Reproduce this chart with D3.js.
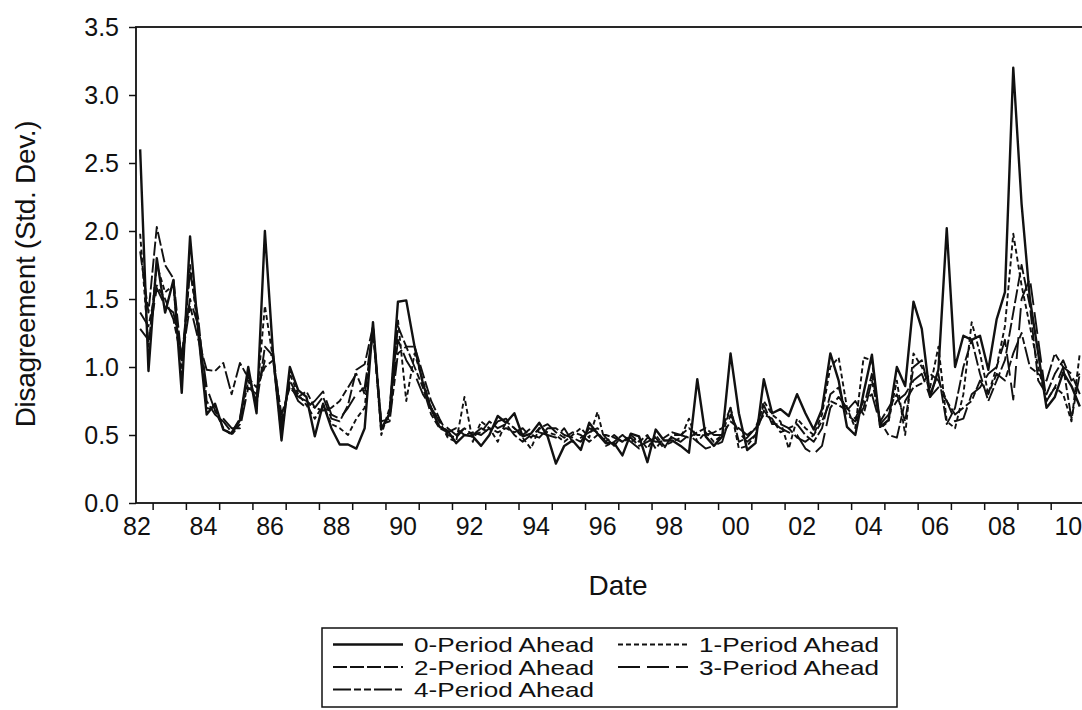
<!DOCTYPE html>
<html><head><meta charset="utf-8">
<script src="https://cdn.jsdelivr.net/npm/d3@7"></script>
<style>
body{margin:0;background:#fff}
svg text{font-family:"Liberation Sans",Arial,sans-serif;fill:#111}
</style>
</head><body>
<svg id="c" width="1082" height="710"></svg>
<script>
// quarterly observations, 1982Q1 .. 2010Q2
const startYear = 1982;
const quarters = d3.range(114).map(i => `${startYear + Math.floor(i / 4)}Q${i % 4 + 1}`);

const s0 = [2.60,0.97,1.80,1.40, 1.64,0.81,1.96,1.25, 0.65,0.73,0.54,0.51, 0.61,1.00,0.66,2.00,
  1.08,0.46,1.00,0.83, 0.78,0.49,0.73,0.55, 0.43,0.43,0.40,0.55, 1.33,0.54,0.66,1.48,
  1.49,1.15,0.88,0.69, 0.56,0.53,0.44,0.50, 0.49,0.42,0.50,0.64, 0.59,0.66,0.49,0.51,
  0.59,0.49,0.29,0.42, 0.46,0.39,0.59,0.51, 0.44,0.44,0.35,0.51, 0.49,0.30,0.54,0.46,
  0.46,0.42,0.37,0.91, 0.49,0.42,0.49,1.10, 0.66,0.39,0.44,0.91, 0.66,0.69,0.64,0.80,
  0.66,0.54,0.69,1.10, 0.90,0.56,0.50,0.81, 1.09,0.56,0.61,1.00, 0.86,1.48,1.28,0.78,
  0.98,2.02,1.00,1.23, 1.20,1.23,0.98,1.35, 1.55,3.20,2.20,1.50, 1.10,0.70,0.78,0.96, 0.86,0.71];
const s1 = [1.98,1.15,1.75,1.55, 1.60,0.95,1.75,1.25, 0.70,0.68,0.55,0.50, 0.58,0.90,0.75,1.45,
  1.05,0.50,0.95,0.80, 0.72,0.62,0.72,0.58, 0.55,0.50,0.62,0.70, 1.30,0.50,0.70,1.35,
  0.75,1.10,0.90,0.70, 0.60,0.48,0.45,0.78, 0.45,0.60,0.55,0.45, 0.60,0.55,0.48,0.40,
  0.55,0.52,0.50,0.45, 0.50,0.55,0.48,0.67, 0.42,0.45,0.50,0.45, 0.48,0.40,0.50,0.42,
  0.45,0.48,0.62,0.45, 0.52,0.45,0.50,0.70, 0.40,0.42,0.50,0.75, 0.65,0.60,0.40,0.62,
  0.55,0.50,0.65,1.00, 1.07,0.70,0.55,1.07, 1.05,0.55,0.60,0.90, 0.50,1.10,1.00,0.85,
  1.15,0.60,0.55,0.80, 1.33,1.10,0.80,1.00, 1.30,1.98,1.60,1.30, 1.00,0.75,0.85,0.80, 0.60,1.10];
const s2 = [1.85,1.40,2.03,1.75, 1.65,1.05,1.70,1.35, 0.75,0.65,0.60,0.52, 0.62,0.95,0.72,1.15,
  1.08,0.55,0.90,0.78, 0.75,0.70,0.78,0.62, 0.60,0.72,0.98,1.02, 1.30,0.55,0.65,1.30,
  1.15,1.15,0.95,0.75, 0.62,0.50,0.48,0.55, 0.50,0.52,0.60,0.55, 0.58,0.50,0.45,0.50,
  0.48,0.55,0.55,0.50, 0.48,0.45,0.55,0.52, 0.45,0.50,0.45,0.48, 0.42,0.45,0.48,0.40,
  0.50,0.50,0.55,0.50, 0.50,0.52,0.55,0.70, 0.45,0.48,0.55,0.72, 0.58,0.58,0.55,0.58,
  0.50,0.45,0.55,0.80, 0.85,0.65,0.60,0.70, 0.95,0.60,0.70,0.80, 0.60,1.00,1.05,0.80,
  0.95,0.58,0.70,1.00, 1.20,0.95,0.75,0.90, 1.05,1.40,1.75,1.45, 0.90,0.80,0.95,1.05, 0.90,0.95];
const s3 = [1.28,1.20,1.58,1.45, 1.40,1.10,1.50,1.30, 0.85,0.68,0.62,0.55, 0.55,0.85,0.80,1.05,
  1.10,0.60,0.88,0.75, 0.70,0.75,0.82,0.65, 0.62,0.70,0.80,0.85, 1.28,0.60,0.62,1.20,
  1.05,0.95,0.80,0.70, 0.60,0.55,0.50,0.55, 0.50,0.55,0.52,0.60, 0.62,0.55,0.50,0.55,
  0.52,0.50,0.48,0.55, 0.45,0.48,0.52,0.55, 0.48,0.42,0.50,0.45, 0.40,0.48,0.45,0.45,
  0.48,0.45,0.50,0.45, 0.40,0.42,0.45,0.65, 0.52,0.45,0.50,0.68, 0.60,0.55,0.52,0.50,
  0.40,0.36,0.42,0.70, 0.78,0.70,0.62,0.75, 0.80,0.58,0.65,0.75, 0.80,0.90,0.95,0.78,
  0.85,0.75,0.60,0.62, 0.80,0.85,0.95,1.00, 1.20,0.76,1.50,1.65, 1.20,0.75,0.85,1.00, 0.95,0.80];
const s4 = [1.40,1.30,1.60,1.50, 1.35,1.05,1.45,1.20, 0.98,0.97,1.03,0.80, 1.03,0.92,0.85,1.00,
  1.05,0.65,0.85,0.78, 0.82,0.70,0.68,0.70, 0.75,0.85,0.95,0.80, 1.25,0.58,0.60,1.10,
  1.15,1.00,0.85,0.65, 0.55,0.52,0.55,0.50, 0.52,0.50,0.55,0.52, 0.55,0.52,0.55,0.48,
  0.55,0.58,0.52,0.48, 0.52,0.50,0.45,0.50, 0.50,0.48,0.45,0.50, 0.45,0.50,0.40,0.48,
  0.52,0.50,0.48,0.52, 0.55,0.50,0.50,0.60, 0.55,0.50,0.55,0.65, 0.62,0.52,0.55,0.48,
  0.45,0.50,0.60,0.75, 0.72,0.68,0.75,0.65, 0.90,0.60,0.50,0.48, 0.75,0.85,0.88,0.95,
  0.90,0.75,0.65,0.70, 0.75,0.90,0.80,0.95, 0.90,1.10,1.25,1.00, 0.95,0.90,1.10,1.00, 0.62,0.95];

const seriesNames = ["0-Period Ahead","1-Period Ahead","2-Period Ahead","3-Period Ahead","4-Period Ahead"];
const seriesValues = [s0, s1, s2, s3, s4];
const yTickValues = [0,0.5,1.0,1.5,2.0,2.5,3.0,3.5];
const xLabelYears = [1982,1984,1986,1988,1990,1992,1994,1996,1998,2000,2002,2004,2006,2008,2010];
const xTickYears = d3.range(1982, 2011);

const dashes = [null, "5,3", "14,3", "22,7", "18,3,7,3,7,3"];
const widths = [2.4, 1.9, 1.9, 1.9, 1.9];

const svg = d3.select("#c");
const L = 136, T = 27, B = 503, R = 1090.6;
const x = d3.scaleLinear().domain([1982, 2010.7]).range([L, R]);
const y = d3.scaleLinear().domain([0, 3.5]).range([B, T]);
const qTime = q => +q.slice(0,4) + (+q.slice(5) - 1) / 4 + 0.125;

// frame
svg.append("rect").attr("x", L).attr("y", T).attr("width", R - L).attr("height", B - T)
  .attr("fill", "none").attr("stroke", "#111").attr("stroke-width", 1.8);

// y axis
const ya = svg.append("g").attr("transform", `translate(${L},0)`)
  .call(d3.axisLeft(y).tickValues(yTickValues).tickFormat(d3.format(".1f")).tickSize(7).tickPadding(10));
ya.select(".domain").remove();
ya.selectAll("line").attr("stroke", "#111").attr("stroke-width", 1.5);
ya.selectAll("text").style("font-size", "25px").attr("fill", "#111");

// x axis ticks (mid-year) and labels (year start)
const xa = svg.append("g").attr("transform", `translate(0,${B})`)
  .call(d3.axisBottom(x).tickValues(xTickYears.map(v => v + 0.5)).tickFormat("").tickSize(7));
xa.select(".domain").remove();
xa.selectAll("line").attr("stroke", "#111").attr("stroke-width", 1.5);
svg.append("g").selectAll("text").data(xLabelYears).join("text")
  .attr("x", d => x(d) + 1).attr("y", B + 32).attr("text-anchor", "middle")
  .style("font-size", "25px").text(d => String(d).slice(2));

// titles
svg.append("text").attr("x", 618).attr("y", 595).attr("text-anchor", "middle")
  .style("font-size", "28px").text("Date");
svg.append("text").attr("transform", "translate(35,274) rotate(-90)")
  .attr("text-anchor", "middle").style("font-size", "28px").style("letter-spacing", "-0.3px")
  .text("Disagreement (Std. Dev.)");

// lines
svg.append("defs").append("clipPath").attr("id", "clip").append("rect")
  .attr("x", L).attr("y", T - 5).attr("width", R - L).attr("height", B - T + 5);
const line = d3.line().x((d, i) => x(qTime(quarters[i]))).y(d => y(d));
const g = svg.append("g").attr("clip-path", "url(#clip)");
seriesValues.forEach((vals, k) => {
  g.append("path").datum(vals).attr("d", line).attr("fill", "none")
    .attr("stroke", "#111").attr("stroke-width", widths[k]).attr("stroke-linejoin", "round")
    .attr("stroke-dasharray", dashes[k]);
});

// legend
const lg = svg.append("g");
lg.append("rect").attr("x", 322).attr("y", 628).attr("width", 575).attr("height", 79)
  .attr("fill", "none").attr("stroke", "#111").attr("stroke-width", 1.5);
const pos = [[333,652],[618,652],[333,674.5],[618,674.5],[333,697]];
seriesNames.forEach((name, k) => {
  const [px, py] = pos[k];
  lg.append("line").attr("x1", px).attr("x2", px + 70).attr("y1", py - 7.5).attr("y2", py - 7.5)
    .attr("stroke", "#111").attr("stroke-width", widths[k]).attr("stroke-dasharray", dashes[k]);
  lg.append("text").attr("x", px + 81).attr("y", py).style("font-size", "21px")
    .attr("textLength", 180).attr("lengthAdjust", "spacingAndGlyphs").text(name);
});
</script>
</body></html>
